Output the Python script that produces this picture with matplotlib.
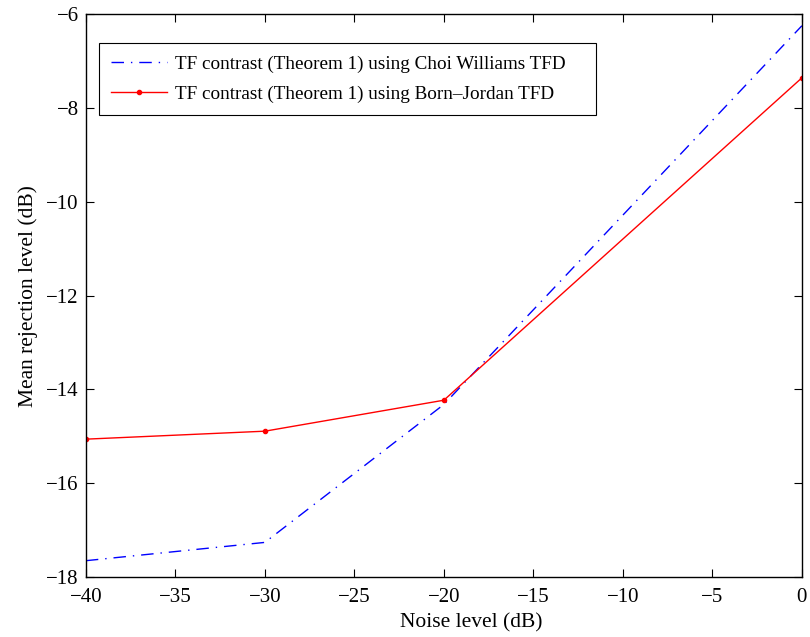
import numpy as np
import matplotlib.pyplot as plt

plt.rcParams['font.family'] = ['Liberation Serif', 'DejaVu Serif']

# noise levels and mean rejection levels for the two TFDs
noise_db = [-40, -30, -20, 0]
choi_williams = [-17.65, -17.26, -14.32, -6.25]
born_jordan = [-15.06, -14.89, -14.23, -7.36]

labels = ['TF contrast (Theorem 1) using Choi Williams TFD',
          'TF contrast (Theorem 1) using Born\u2013Jordan TFD']

fig = plt.figure(figsize=(8.1, 6.37), dpi=100)
ax = fig.add_axes([0.106, 0.094, 0.884, 0.884])

# trailing spaces give the legend box some room on the right
ax.plot(noise_db, choi_williams, color='b', lw=1.0,
        dashes=(9, 5, 1, 5), label=labels[0] + '    ')
ax.plot(noise_db, born_jordan, color='r', lw=1.0, marker='.',
        markersize=6, label=labels[1])

xt = np.arange(-40, 1, 5)
yt = np.arange(-18, -5, 2)
ax.set_xlim(-40, 0)
ax.set_ylim(-18, -6)
ax.set_xticks(xt)
ax.set_yticks(yt)
ax.set_xticklabels([str(t).replace('-', '\u2212') for t in xt])
ax.set_yticklabels([str(t).replace('-', '\u2212') for t in yt])
ax.tick_params(direction='in', top=True, right=True, length=6,
               labelsize=15, width=0.8)
ax.tick_params(axis='x', pad=8)
ax.tick_params(axis='y', pad=5)
for s in ax.spines.values():
    s.set_linewidth(1.0)

ax.set_xlabel('Noise level (dB)', fontsize=15.5, labelpad=4, x=0.538)
ax.set_ylabel('Mean rejection level (dB)', fontsize=15.5, labelpad=6)

leg = ax.legend(loc='upper left', fontsize=13.75, handlelength=2.95,
                fancybox=False, framealpha=1, edgecolor='k',
                borderpad=0.62, labelspacing=0.68, handletextpad=0.4,
                bbox_to_anchor=(0.018, 0.948), borderaxespad=0.0)
leg.get_frame().set_linewidth(0.8)

fig.savefig('out.png', dpi=100)
